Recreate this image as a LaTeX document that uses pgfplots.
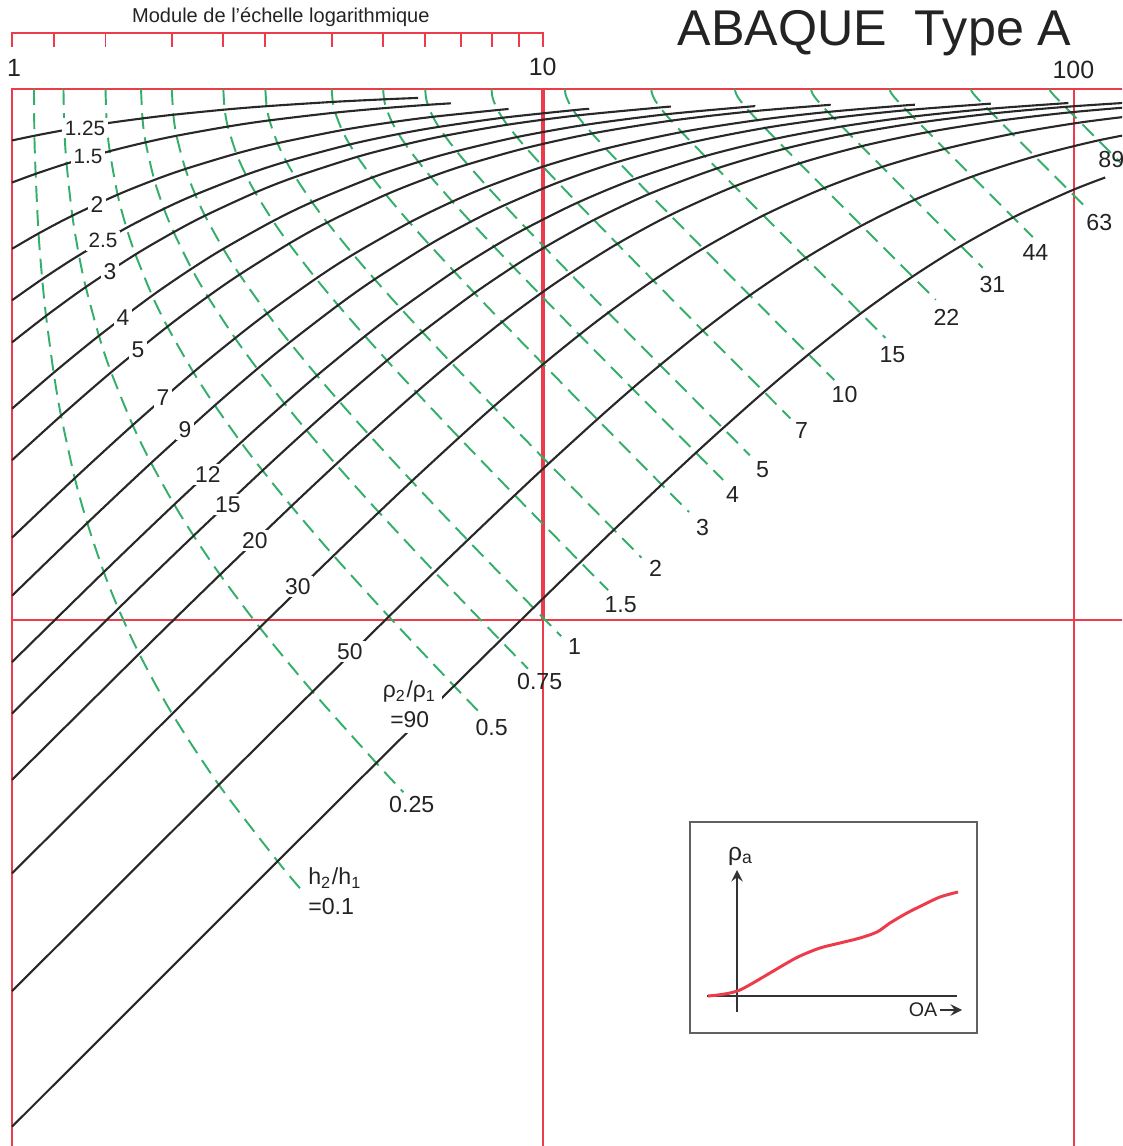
\documentclass[border=0pt]{standalone}
\usepackage{pgfplots}
\pgfplotsset{compat=1.18}
\usepackage{fontspec}
\setmainfont{Liberation Sans}
\definecolor{gridred}{RGB}{236,60,76}
\definecolor{dgreen}{RGB}{52,174,106}
\definecolor{curve}{RGB}{40,40,40}
\definecolor{txt}{RGB}{35,35,35}
\begin{document}
\begin{tikzpicture}
\useasboundingbox (0,0) rectangle (11.22cm,11.46cm);
\begin{axis}[at={(0,0)}, anchor=south west, scale only axis,
  width=11.22cm, height=11.46cm, xmode=log, ymode=log,
  xmin=0.94932, xmax=123.14, ymin=0.10219, ymax=14.71,
  hide axis, clip=true, no markers,
  blk/.style={curve, line width=0.6pt, smooth},
  grn/.style={dgreen, line width=0.55pt, dash pattern=on 4.5pt off 2.4pt, smooth},
  rl/.style={gridred, line width=0.55pt}]
% red frame and grid
\addplot[rl] coordinates {(1,0.05) (1,10) (200,10)};
\addplot[rl] coordinates {(10,0.05) (10,10)};
\addplot[gridred, line width=0.9pt] coordinates {(10,1) (10,10)};
\addplot[rl] coordinates {(100,0.05) (100,10)};
\addplot[gridred, line width=0.7pt] coordinates {(1,1) (200,1)};
% ruler
\addplot[rl] coordinates {(1,12.0) (1,12.75) (10,12.75) (10,12.0)};
\pgfplotsinvokeforeach{1.2,1.5,2,2.5,3,4,5,6,7,8,9}{\addplot[rl] coordinates {(#1,12.0) (#1,12.75)};}
% h2/h1 dashed curves
\addplot[grn] coordinates {(1.1,10) (1.102,8.165) (1.108,6.922) (1.122,5.345) (1.140,4.385) (1.159,3.739) (1.198,2.922) (1.237,2.425) (1.313,1.850) (1.386,1.523) (1.489,1.231) (1.586,1.051) (1.736,0.8639) (2.003,0.6656) (2.452,0.4894) (3.164,0.3512) (3.537,0.3073)};
\addplot[grn] coordinates {(1.25,10) (1.255,8.367) (1.267,7.237) (1.299,5.774) (1.337,4.862) (1.377,4.237) (1.458,3.430) (1.537,2.928) (1.688,2.328) (1.828,1.976) (2.021,1.650) (2.198,1.441) (2.465,1.217) (2.928,0.9678) (3.683,0.7330) (4.854,0.5379) (5.460,0.4738)};
\addplot[grn] coordinates {(1.5,10) (1.508,8.619) (1.528,7.638) (1.581,6.325) (1.643,5.477) (1.708,4.880) (1.837,4.082) (1.962,3.568) (2.196,2.928) (2.410,2.536) (2.700,2.160) (2.964,1.912) (3.358,1.638) (4.033,1.322) (5.125,1.015) (6.801,0.7515) (7.665,0.6636)};
\addplot[grn] coordinates {(1.75,10) (1.761,8.803) (1.785,7.935) (1.854,6.742) (1.933,5.949) (2.016,5.375) (2.179,4.588) (2.337,4.065) (2.631,3.394) (2.898,2.972) (3.260,2.557) (3.586,2.277) (4.074,1.964) (4.908,1.596) (6.251,1.232) (8.311,0.9158) (9.371,0.8096)};
\addplot[grn] coordinates {(2,10) (2.013,8.944) (2.041,8.165) (2.121,7.071) (2.214,6.325) (2.309,5.774) (2.5,5) (2.683,4.472) (3.024,3.780) (3.333,3.333) (3.753,2.887) (4.131,2.582) (4.696,2.236) (5.660,1.826) (7.213,1.414) (9.592,1.054) (10.82,0.9325)};
\addplot[grn] coordinates {(2.5,10) (2.515,9.145) (2.550,8.498) (2.646,7.559) (2.757,6.892) (2.872,6.383) (3.102,5.641) (3.324,5.114) (3.737,4.396) (4.113,3.917) (4.623,3.425) (5.084,3.081) (5.773,2.685) (6.950,2.206) (8.848,1.718) (11.76,1.285) (13.26,1.138)};
\addplot[grn] coordinates {(3,10) (3.017,9.282) (3.055,8.729) (3.162,7.906) (3.286,7.303) (3.416,6.831) (3.674,6.124) (3.924,5.606) (4.392,4.880) (4.819,4.381) (5.401,3.858) (5.927,3.487) (6.716,3.053) (8.066,2.521) (10.25,1.971) (13.60,1.479) (15.33,1.310)};
\addplot[grn] coordinates {(4,10) (4.019,9.456) (4.062,9.027) (4.183,8.367) (4.324,7.862) (4.472,7.454) (4.770,6.814) (5.060,6.325) (5.606,5.606) (6.110,5.092) (6.801,4.534) (7.430,4.128) (8.376,3.642) (10.01,3.032) (12.65,2.387) (16.73,1.799) (18.84,1.597)};
\addplot[grn] coordinates {(5,10) (5.020,9.562) (5.066,9.211) (5.196,8.660) (5.348,8.228) (5.508,7.868) (5.831,7.289) (6.148,6.831) (6.751,6.137) (7.311,5.624) (8.083,5.052) (8.790,4.626) (9.859,4.108) (11.71,3.444) (14.73,2.729) (19.42,2.066) (21.84,1.835)};
\addplot[grn] coordinates {(6,10) (6.021,9.633) (6.069,9.337) (6.205,8.864) (6.364,8.485) (6.532,8.165) (6.874,7.638) (7.211,7.211) (7.856,6.547) (8.459,6.042) (9.296,5.468) (10.07,5.033) (11.24,4.494) (13.27,3.792) (16.62,3.021) (21.82,2.297) (24.52,2.043)};
\addplot[grn] coordinates {(8,10) (8.022,9.723) (8.073,9.497) (8.216,9.129) (8.385,8.826) (8.564,8.564) (8.930,8.118) (9.295,7.746) (10,7.143) (10.67,6.667) (11.60,6.106) (12.47,5.668) (13.80,5.110) (16.13,4.360) (20.00,3.509) (26.08,2.689) (29.24,2.397)};
\addplot[grn] coordinates {(11,10) (11.02,9.798) (11.08,9.631) (11.23,9.354) (11.40,9.121) (11.59,8.916) (11.98,8.557) (12.37,8.246) (13.13,7.724) (13.86,7.295) (14.89,6.770) (15.86,6.346) (17.36,5.788) (20.03,5.008) (24.52,4.087) (31.64,3.164) (35.37,2.830)};
\addplot[grn] coordinates {(16,10) (16.02,9.861) (16.08,9.744) (16.23,9.549) (16.42,9.381) (16.61,9.230) (17.02,8.959) (17.44,8.718) (18.25,8.297) (19.04,7.935) (20.18,7.474) (21.26,7.087) (22.95,6.557) (26.01,5.780) (31.25,4.807) (39.70,3.781) (44.17,3.398)};
\addplot[grn] coordinates {(23,10) (23.02,9.903) (23.08,9.821) (23.24,9.682) (23.43,9.562) (23.63,9.452) (24.05,9.251) (24.48,9.068) (25.34,8.738) (26.18,8.446) (27.40,8.059) (28.57,7.723) (30.43,7.246) (33.85,6.509) (39.82,5.530) (49.65,4.433) (54.91,4.008)};
\addplot[grn] coordinates {(32,10) (32.02,9.930) (32.08,9.871) (32.24,9.770) (32.43,9.681) (32.64,9.600) (33.07,9.449) (33.51,9.310) (34.40,9.053) (35.28,8.819) (36.56,8.502) (37.80,8.218) (39.79,7.803) (43.51,7.133) (50.13,6.188) (61.26,5.063) (67.29,4.609)};
\addplot[grn] coordinates {(45,10) (45.02,9.950) (45.08,9.908) (45.24,9.836) (45.44,9.772) (45.65,9.712) (46.09,9.601) (46.54,9.498) (47.45,9.304) (48.35,9.123) (49.69,8.872) (50.99,8.642) (53.10,8.296) (57.08,7.714) (64.33,6.843) (76.80,5.731) (83.65,5.261)};
\addplot[grn] coordinates {(64,10) (64.03,9.965) (64.08,9.935) (64.25,9.884) (64.44,9.838) (64.65,9.796) (65.10,9.716) (65.56,9.641) (66.48,9.498) (67.41,9.362) (68.78,9.171) (70.14,8.992) (72.34,8.716) (76.56,8.233) (84.39,7.468) (98.19,6.418) (105.9,5.950)};
\addplot[grn] coordinates {(90,10) (90.03,9.975) (90.08,9.954) (90.25,9.917) (90.44,9.885) (90.66,9.854) (91.11,9.796) (91.57,9.741) (92.51,9.636) (93.45,9.536) (94.85,9.392) (96.24,9.254) (98.52,9.039) (102.9,8.650) (111.2,8.003) (126.2,7.052) (134.8,6.605)};
% rho2/rho1 curves
\addplot[blk] coordinates {(1,8) (1.102,8.165) (1.255,8.367) (1.508,8.619) (1.761,8.803) (2.013,8.944) (2.515,9.145) (3.017,9.282) (4.019,9.456) (5.020,9.562) (5.821,9.621)};
\addplot[blk] coordinates {(1,6.667) (1.108,6.922) (1.267,7.237) (1.528,7.638) (1.785,7.935) (2.041,8.165) (2.550,8.498) (3.055,8.729) (4.062,9.027) (5.066,9.211) (6.069,9.337) (6.710,9.398)};
\addplot[blk] coordinates {(1,5) (1.122,5.345) (1.299,5.774) (1.581,6.325) (1.854,6.742) (2.121,7.071) (2.646,7.559) (3.162,7.906) (4.183,8.367) (5.196,8.660) (6.205,8.864) (8.216,9.129) (8.617,9.167)};
\addplot[blk] coordinates {(1,4) (1.140,4.385) (1.337,4.862) (1.643,5.477) (1.933,5.949) (2.214,6.325) (2.757,6.892) (3.286,7.303) (4.324,7.862) (5.348,8.228) (6.364,8.485) (8.385,8.826) (11.40,9.121) (12.22,9.177)};
\addplot[blk] coordinates {(1,3.333) (1.159,3.739) (1.377,4.237) (1.708,4.880) (2.016,5.375) (2.309,5.774) (2.872,6.383) (3.416,6.831) (4.472,7.454) (5.508,7.868) (6.532,8.165) (8.564,8.564) (11.59,8.916) (16.61,9.230) (17.42,9.264)};
\addplot[blk] coordinates {(1,2.5) (1.198,2.922) (1.458,3.430) (1.837,4.082) (2.179,4.588) (2.5,5) (3.102,5.641) (3.674,6.124) (4.770,6.814) (5.831,7.289) (6.874,7.638) (8.930,8.118) (11.98,8.557) (17.02,8.959) (24.05,9.251) (25.05,9.280)};
\addplot[blk] coordinates {(1,2) (1.237,2.425) (1.537,2.928) (1.962,3.568) (2.337,4.065) (2.683,4.472) (3.324,5.114) (3.924,5.606) (5.060,6.325) (6.148,6.831) (7.211,7.211) (9.295,7.746) (12.37,8.246) (17.44,8.718) (24.48,9.068) (33.51,9.310) (34.82,9.334)};
\addplot[blk] coordinates {(1,1.429) (1.313,1.850) (1.688,2.328) (2.196,2.928) (2.631,3.394) (3.024,3.780) (3.737,4.396) (4.392,4.880) (5.606,5.606) (6.751,6.137) (7.856,6.547) (10,7.143) (13.13,7.724) (18.25,8.297) (25.34,8.738) (34.40,9.053) (47.45,9.304) (50.15,9.340)};
\addplot[blk] coordinates {(1,1.111) (1.386,1.523) (1.828,1.976) (2.410,2.536) (2.898,2.972) (3.333,3.333) (4.113,3.917) (4.819,4.381) (6.110,5.092) (7.311,5.624) (8.459,6.042) (10.67,6.667) (13.86,7.295) (19.04,7.935) (26.18,8.446) (35.28,8.819) (48.35,9.123) (67.41,9.362) (69.41,9.380)};
\addplot[blk] coordinates {(1,0.8333) (1.489,1.231) (2.021,1.650) (2.700,2.160) (3.260,2.557) (3.753,2.887) (4.623,3.425) (5.401,3.858) (6.801,4.534) (8.083,5.052) (9.296,5.468) (11.60,6.106) (14.89,6.770) (20.18,7.474) (27.40,8.059) (36.56,8.502) (49.69,8.872) (68.78,9.171) (94.85,9.392) (96.86,9.404)};
\addplot[blk] coordinates {(1,0.6667) (1.586,1.051) (2.198,1.441) (2.964,1.912) (3.586,2.277) (4.131,2.582) (5.084,3.081) (5.927,3.487) (7.430,4.128) (8.790,4.626) (10.07,5.033) (12.47,5.668) (15.86,6.346) (21.26,7.087) (28.57,7.723) (37.80,8.218) (50.99,8.642) (70.14,8.992) (96.24,9.254) (132.3,9.452)};
\addplot[blk] coordinates {(1,0.5) (1.736,0.8639) (2.465,1.217) (3.358,1.638) (4.074,1.964) (4.696,2.236) (5.773,2.685) (6.716,3.053) (8.376,3.642) (9.859,4.108) (11.24,4.494) (13.80,5.110) (17.36,5.788) (22.95,6.557) (30.43,7.246) (39.79,7.803) (53.10,8.296) (72.34,8.716) (98.52,9.039) (134.7,9.287)};
\addplot[blk] coordinates {(1,0.3333) (2.003,0.6656) (2.928,0.9678) (4.033,1.322) (4.908,1.596) (5.660,1.826) (6.950,2.206) (8.066,2.521) (10.01,3.032) (11.71,3.444) (13.27,3.792) (16.13,4.360) (20.03,5.008) (26.01,5.780) (33.85,6.509) (43.51,7.133) (57.08,7.714) (76.56,8.233) (102.9,8.650) (139.2,8.982)};
\addplot[blk] coordinates {(1,0.2) (2.452,0.4894) (3.683,0.7330) (5.125,1.015) (6.251,1.232) (7.213,1.414) (8.848,1.718) (10.25,1.971) (12.65,2.387) (14.73,2.729) (16.62,3.021) (20.00,3.509) (24.52,4.087) (31.25,4.807) (39.82,5.530) (50.13,6.188) (64.33,6.843) (84.39,7.468) (111.2,8.003) (147.9,8.452)};
\addplot[blk] coordinates {(1,0.1111) (3.164,0.3512) (4.854,0.5379) (6.801,0.7515) (8.311,0.9158) (9.592,1.054) (11.76,1.285) (13.60,1.479) (16.73,1.799) (19.42,2.066) (21.82,2.297) (26.08,2.689) (31.64,3.164) (39.70,3.781) (49.65,4.433) (61.26,5.063) (76.80,5.731) (98.19,6.418) (114.5,6.814)};
\end{axis}
% inset
\begin{axis}[at={(6.90cm,1.13cm)}, anchor=south west, scale only axis,
  width=2.87cm, height=2.11cm, xmin=0, xmax=287, ymin=0, ymax=211,
  xtick=\empty, ytick=\empty, clip=false, no markers,
  axis line style={draw=black!62, line width=0.65pt}]
\addplot[black!80, line width=0.45pt, -stealth] coordinates {(47,21) (47,163)};
\addplot[black!80, line width=0.45pt] coordinates {(17,37) (267,37)};
\addplot[gridred, line width=0.85pt, smooth] coordinates {(18,37) (28,38) (40,40) (50,43) (63,50) (80,60) (97,70) (110,77) (130,85) (150,90) (170,95) (187,101) (200,110) (217,120) (233,128) (250,136) (268,141)};
\addplot[black!80, line width=0.45pt, -stealth] coordinates {(250,23) (272,23)};
\node[text=txt, font=\fontsize{7}{8}\selectfont] at (axis cs:51,177) {ρ\textsubscript{a}};
\node[text=txt, font=\fontsize{5.6}{6}\selectfont] at (axis cs:233,23) {OA};
\end{axis}
% text in pixel coordinates of the reference
\begin{scope}[x=0.01cm, y=-0.01cm, yshift=11.46cm]
\tikzset{lab/.style={fill=white, inner sep=0.7pt, text=txt, font=\fontsize{6.5}{7}\selectfont},
         sm/.style={font=\fontsize{5.9}{6.5}\selectfont},
         glab/.style={inner sep=0.5pt, text=txt, font=\fontsize{6.6}{7}\selectfont}}
\node[text=txt, font=\fontsize{5.7}{6}\selectfont] at (281,17) {Module de l'échelle logarithmique};
\node[text=txt, font=\fontsize{14.3}{16}\selectfont] at (875,33) {ABAQUE\ \ Type A};
\node[text=txt, font=\fontsize{7.1}{8}\selectfont] at (14,68) {1};
\node[text=txt, font=\fontsize{7.1}{8}\selectfont] at (543,67) {10};
\node[text=txt, font=\fontsize{7.1}{8}\selectfont] at (1074,70) {100};
% rho2/rho1 labels
\node[lab, sm] at (85,128) {1.25};
\node[lab, sm] at (88,157) {1.5};
\node[lab] at (97,205) {2};
\node[lab, sm] at (103,241) {2.5};
\node[lab] at (110,272) {3};
\node[lab] at (123,318) {4};
\node[lab] at (138,350) {5};
\node[lab] at (163,398) {7};
\node[lab] at (185,430) {9};
\node[lab] at (208,475) {12};
\node[lab] at (228,505) {15};
\node[lab] at (255,541) {20};
\node[lab] at (298,587) {30};
\node[lab] at (350,652) {50};
\node[lab, align=center, inner sep=1.5pt] at (410,705) {ρ\textsubscript{2}/ρ\textsubscript{1}\\[1.5pt]=90};
% h2/h1 labels
\node[glab, anchor=west, align=left] at (306,892) {h\textsubscript{2}/h\textsubscript{1}\\[1.5pt]=0.1};
\node[glab] at (412,805) {0.25};
\node[glab] at (492,728) {0.5};
\node[glab] at (540,682) {0.75};
\node[glab] at (575,647) {1};
\node[glab] at (621,605) {1.5};
\node[glab] at (656,569) {2};
\node[glab] at (703,528) {3};
\node[glab] at (733,495) {4};
\node[glab] at (763,470) {5};
\node[glab] at (802,431) {7};
\node[glab] at (845,395) {10};
\node[glab] at (893,355) {15};
\node[glab] at (947,318) {22};
\node[glab] at (993,285) {31};
\node[glab] at (1036,253) {44};
\node[glab] at (1100,223) {63};
\node[glab] at (1112,160) {89};
\end{scope}
\end{tikzpicture}
\end{document}
